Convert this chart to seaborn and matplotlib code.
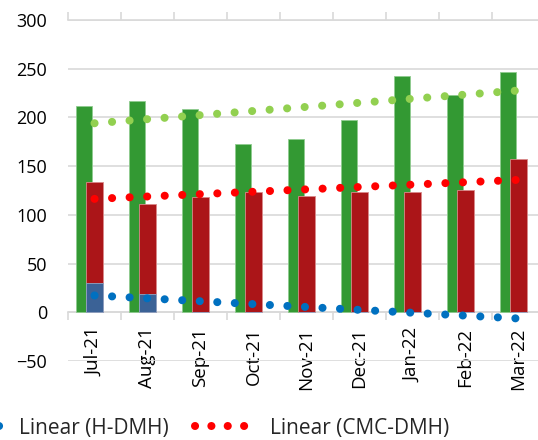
import numpy as np
import matplotlib
matplotlib.use("Agg")
import matplotlib.pyplot as plt
from matplotlib.lines import Line2D
import seaborn as sns

# data
months = ['Jul-21', 'Aug-21', 'Sep-21', 'Oct-21', 'Nov-21', 'Dec-21', 'Jan-22', 'Feb-22', 'Mar-22']
dmh = [212, 216.5, 209, 172.5, 177.5, 197, 243, 223, 247]
cmc_dmh = [133.5, 111.5, 118.5, 123, 119.5, 123.5, 123.5, 125.5, 157]
h_dmh = [30.5, 18.5, 0, 0, 0, 0, 0, 0, 0]

sns.set_theme(style="white")
plt.rcParams['font.family'] = ['Open Sans', 'DejaVu Sans']

xpos = np.arange(len(months))
dots = (0, (0.01, 2.17))

fig = plt.figure(figsize=(5.38, 4.4), dpi=100)
ax = fig.add_axes([68/538, (440-361)/440, 477/538, 341/440])

# bars
ax.bar(xpos - 0.2, dmh, width=0.31, color='#339933', edgecolor='#8fcc8f', linewidth=0.6, zorder=2)
ax.bar(xpos, cmc_dmh, width=0.31, color='#ab1518', edgecolor='#d98a8a', linewidth=0.6, zorder=3)
ax.bar(xpos, h_dmh, width=0.31, color='#3b6296', edgecolor='#8fa6c6', linewidth=0.6, zorder=4)

# linear trendlines
for vals, col in [(dmh, '#92d050'), (cmc_dmh, '#ff0000'), (h_dmh, '#0070c0')]:
    sns.regplot(x=xpos, y=np.array(vals, dtype=float), ax=ax, scatter=False, ci=None, truncate=True,
                color=col, line_kws=dict(linestyle=dots, dash_capstyle='round', linewidth=5.8, zorder=5))

for s in ['left', 'right']:
    ax.spines[s].set_visible(False)
ax.spines['bottom'].set_position(('data', 0))
ax.spines['bottom'].set_color('#d9d9d9')
ax.spines['bottom'].set_linewidth(1.2)
ax.spines['bottom'].set_zorder(1)
ax.spines['top'].set_color('#d9d9d9')
ax.spines['top'].set_linewidth(1.2)

ax.set_xlim(-0.5, len(months) - 0.5)
ax.set_ylim(-50, 300)
ax.set_yticks(np.arange(-50, 301, 50))
ax.set_xticks(xpos)
ax.set_xticklabels(months)
ax.set_xticks(np.arange(-0.5, len(months), 1), minor=True)
ax.tick_params(axis='y', length=0, pad=15, labelsize=13, labelcolor='black')
ax.tick_params(axis='x', which='major', length=0, pad=11, labelsize=13.5, labelrotation=90, labelcolor='black')
ax.tick_params(axis='x', which='minor', length=6, width=1.2, color='#d9d9d9', top=True, bottom=True, direction='out')
ax.grid(axis='y', color='#d9d9d9', linewidth=1.2, zorder=0)
ax.set_axisbelow(True)

leg_dots = (0, (0.01, 2.02))
handles = [Line2D([], [], color='#0070c0', linestyle=leg_dots, dash_capstyle='round', linewidth=5.8),
           Line2D([], [], color='#ff0000', linestyle=leg_dots, dash_capstyle='round', linewidth=5.8)]
fig.legend(handles, ['Linear (H-DMH)', 'Linear (CMC-DMH)'], ncol=2, frameon=False,
           loc='center left', bbox_to_anchor=(-56/538, 1 - 428/440), fontsize=15,
           handlelength=3.15, handletextpad=0.45, columnspacing=1.25, borderpad=0, borderaxespad=0)

fig.savefig('out.png', dpi=100)
